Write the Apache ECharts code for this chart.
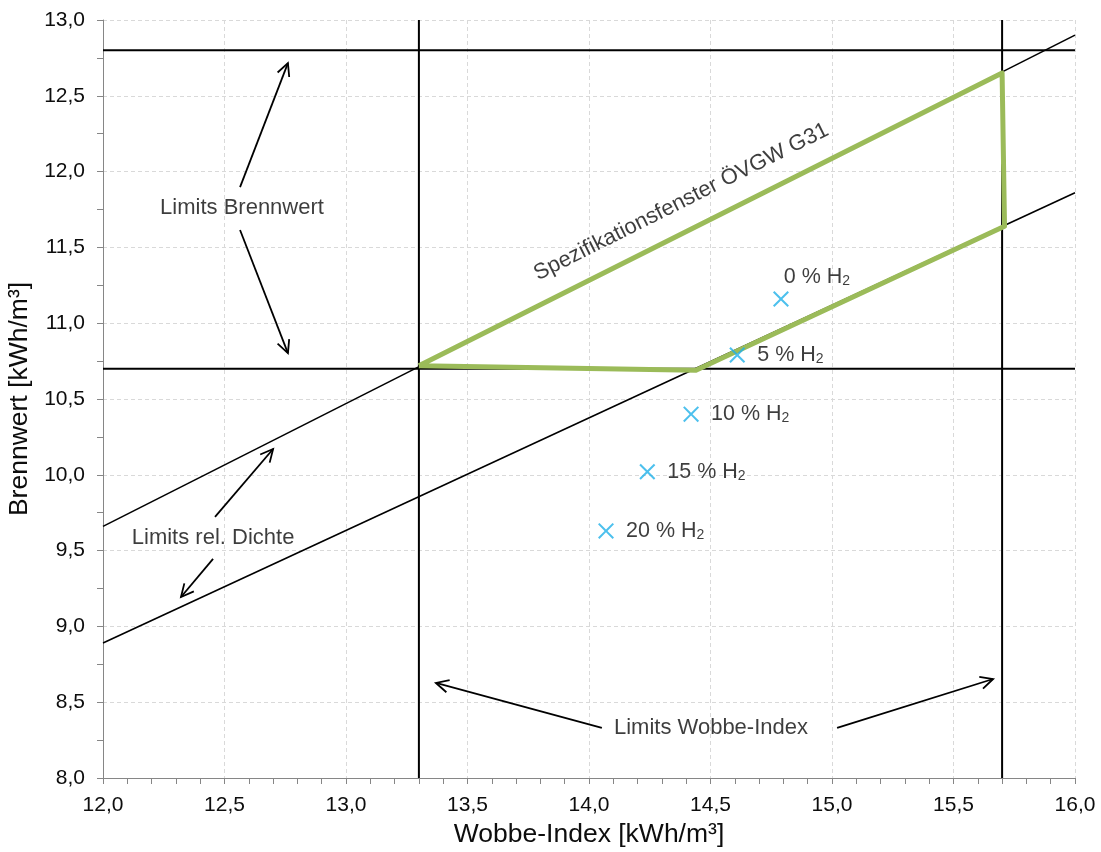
<!DOCTYPE html>
<html>
<head>
<meta charset="utf-8">
<script src="https://cdn.jsdelivr.net/npm/echarts@6/dist/echarts.min.js"></script>
<style>html,body{margin:0;padding:0;background:#fff}#c{width:1101px;height:852px}</style>
</head>
<body>
<div id="c"></div>
<script>
// ---- data ----
const xTickLabels = ['12,0','12,5','13,0','13,5','14,0','14,5','15,0','15,5','16,0'];
const yTickLabels = ['8,0','8,5','9,0','9,5','10,0','10,5','11,0','11,5','12,0','12,5','13,0'];

// reference limits (Brennwert, Wobbe-Index)
const limitBrennwertHigh = [[12.0, 12.8], [16.0, 12.8]];
const limitBrennwertLow  = [[12.0, 10.7], [16.0, 10.7]];
const limitWobbeLow      = [[13.3, 8.0], [13.3, 13.0]];
const limitWobbeHigh     = [[15.7, 8.0], [15.7, 13.0]];
// relative density limits
const limitDichteHigh    = [[12.0, 9.66], [16.0, 12.90]];
const limitDichteLow     = [[12.0, 8.89], [16.0, 11.86]];

// specification window ÖVGW G31
const specWindow = [[13.30, 10.72], [15.70, 12.65], [15.71, 11.64], [14.44, 10.69], [13.30, 10.72]];

// H2 admixture points
const h2Names  = ['0', '5', '10', '15', '20'];
const h2Wobbe  = [14.79, 14.61, 14.42, 14.24, 14.07];
const h2Brenn  = [11.16, 10.79, 10.40, 10.02, 9.63];

// annotation arrows [x1, y1, x2, y2]
const arrows = [
  [12.564, 11.898, 12.761, 12.716],
  [12.564, 11.615, 12.761, 10.803],
  [12.461, 9.722, 12.700, 10.170],
  [12.453, 9.445, 12.321, 9.194],
  [14.053, 8.330, 13.370, 8.627],
  [15.021, 8.330, 15.663, 8.653]
];
// annotation texts
const noteTexts = ['Limits Brennwert', 'Limits rel. Dichte', 'Limits Wobbe-Index', 'Spezifikationsfenster ÖVGW G31'];
const notePos   = [[12.572, 11.760], [12.453, 9.583], [14.502, 8.330], [14.380, 11.800]];
const noteRotate = [0, 0, 0, 26.6];

// ---- chart ----
const FONT = '"Liberation Sans", Arial, sans-serif';
const TXT = '#0d0d0d';
const chart = echarts.init(document.getElementById('c'), null, {renderer: 'canvas'});

function refLine(data, w) {
  return {type: 'line', data: data, symbol: 'none', silent: true,
    lineStyle: {color: '#000', width: w}, z: 2};
}

const crossPath = 'path://M0,0.9L0.9,0L5,4.1L9.1,0L10,0.9L5.9,5L10,9.1L9.1,10L5,5.9L0.9,10L0,9.1L4.1,5Z';

const option = {
  animation: false,
  backgroundColor: '#fff',
  textStyle: {fontFamily: FONT},
  grid: {left: 103, right: 26, top: 20, bottom: 74, containLabel: false, outerBoundsMode: 'none'},
  xAxis: {
    type: 'value', min: 12, max: 16, interval: 0.5,
    name: 'Wobbe-Index [kWh/m³]', nameLocation: 'middle', nameGap: 42,
    nameTextStyle: {fontSize: 26.5, color: TXT, fontFamily: FONT},
    axisLine: {show: true, onZero: false, lineStyle: {color: '#868686', width: 1}},
    axisTick: {show: true, length: 6, lineStyle: {color: '#868686'}},
    minorTick: {show: true, splitNumber: 5, length: 6, lineStyle: {color: '#868686'}},
    minorSplitLine: {show: false},
    axisLabel: {fontSize: 21, color: TXT, margin: 17, fontFamily: FONT,
      formatter: v => xTickLabels[Math.round((v - 12) / 0.5)]},
    splitLine: {show: true, lineStyle: {color: '#d9d9d9', type: [4, 3], width: 1}}
  },
  yAxis: {
    type: 'value', min: 8, max: 13, interval: 0.5,
    name: 'Brennwert [kWh/m³]', nameLocation: 'middle', nameGap: 62, nameRotate: 90,
    nameTextStyle: {fontSize: 26.5, color: TXT, fontFamily: FONT},
    axisLine: {show: true, onZero: false, lineStyle: {color: '#868686', width: 1}},
    axisTick: {show: true, length: 6, lineStyle: {color: '#868686'}},
    minorTick: {show: true, splitNumber: 2, length: 6, lineStyle: {color: '#868686'}},
    minorSplitLine: {show: false},
    axisLabel: {fontSize: 21, color: TXT, margin: 18, fontFamily: FONT,
      formatter: v => yTickLabels[Math.round((v - 8) / 0.5)]},
    splitLine: {show: true, lineStyle: {color: '#d9d9d9', type: [4, 3], width: 1}}
  },
  series: [
    refLine(limitBrennwertHigh, 2),
    refLine(limitBrennwertLow, 2),
    refLine(limitWobbeLow, 2),
    refLine(limitWobbeHigh, 2),
    refLine(limitDichteHigh, 1.6),
    refLine(limitDichteLow, 1.6),
    {
      type: 'line', data: specWindow, symbol: 'none', silent: true, z: 3,
      lineStyle: {color: '#9BBB59', width: 5, join: 'round'}
    },
    {
      type: 'custom', silent: true, z: 4,
      coordinateSystem: 'cartesian2d',
      encode: {x: [0, 2], y: [1, 3]},
      data: arrows,
      renderItem: function (params, api) {
        const p1 = api.coord([api.value(0), api.value(1)]);
        const p2 = api.coord([api.value(2), api.value(3)]);
        const ang = Math.atan2(p2[1] - p1[1], p2[0] - p1[0]);
        const L = 14, a = 0.46;
        const h1 = [p2[0] - L * Math.cos(ang - a), p2[1] - L * Math.sin(ang - a)];
        const h2 = [p2[0] - L * Math.cos(ang + a), p2[1] - L * Math.sin(ang + a)];
        return {type: 'group', children: [
          {type: 'line', shape: {x1: p1[0], y1: p1[1], x2: p2[0], y2: p2[1]},
           style: {stroke: '#000', lineWidth: 1.8}},
          {type: 'polyline', shape: {points: [h1, p2, h2]},
           style: {stroke: '#000', lineWidth: 1.8, fill: null}}
        ]};
      }
    },
    {
      type: 'scatter', silent: true, z: 5,
      symbolSize: 1, itemStyle: {color: 'rgba(0,0,0,0)'},
      data: noteTexts.map((t, i) => ({
        value: notePos[i], name: t,
        label: {rotate: noteRotate[i]}
      })),
      label: {show: true, position: 'inside', formatter: '{b}',
        fontSize: 22, color: TXT, fontFamily: FONT}
    },
    {
      type: 'scatter', silent: true, z: 6,
      symbol: crossPath, symbolSize: 16,
      itemStyle: {color: '#1FB0E8'},
      data: h2Names.map((n, i) => {
        const d = {value: [h2Wobbe[i], h2Brenn[i]], name: n};
        if (i === 0) d.label = {position: 'top', offset: [36, 9]};
        return d;
      }),
      label: {
        show: true, position: 'right', distance: 12,
        formatter: p => '{a|' + p.name + ' % H}{s|2}',
        rich: {
          a: {fontSize: 21.5, lineHeight: 22, color: TXT, fontFamily: FONT},
          s: {fontSize: 14, lineHeight: 6, verticalAlign: 'bottom', color: TXT, fontFamily: FONT}
        }
      }
    }
  ]
};
chart.setOption(option);
</script>
</body>
</html>
